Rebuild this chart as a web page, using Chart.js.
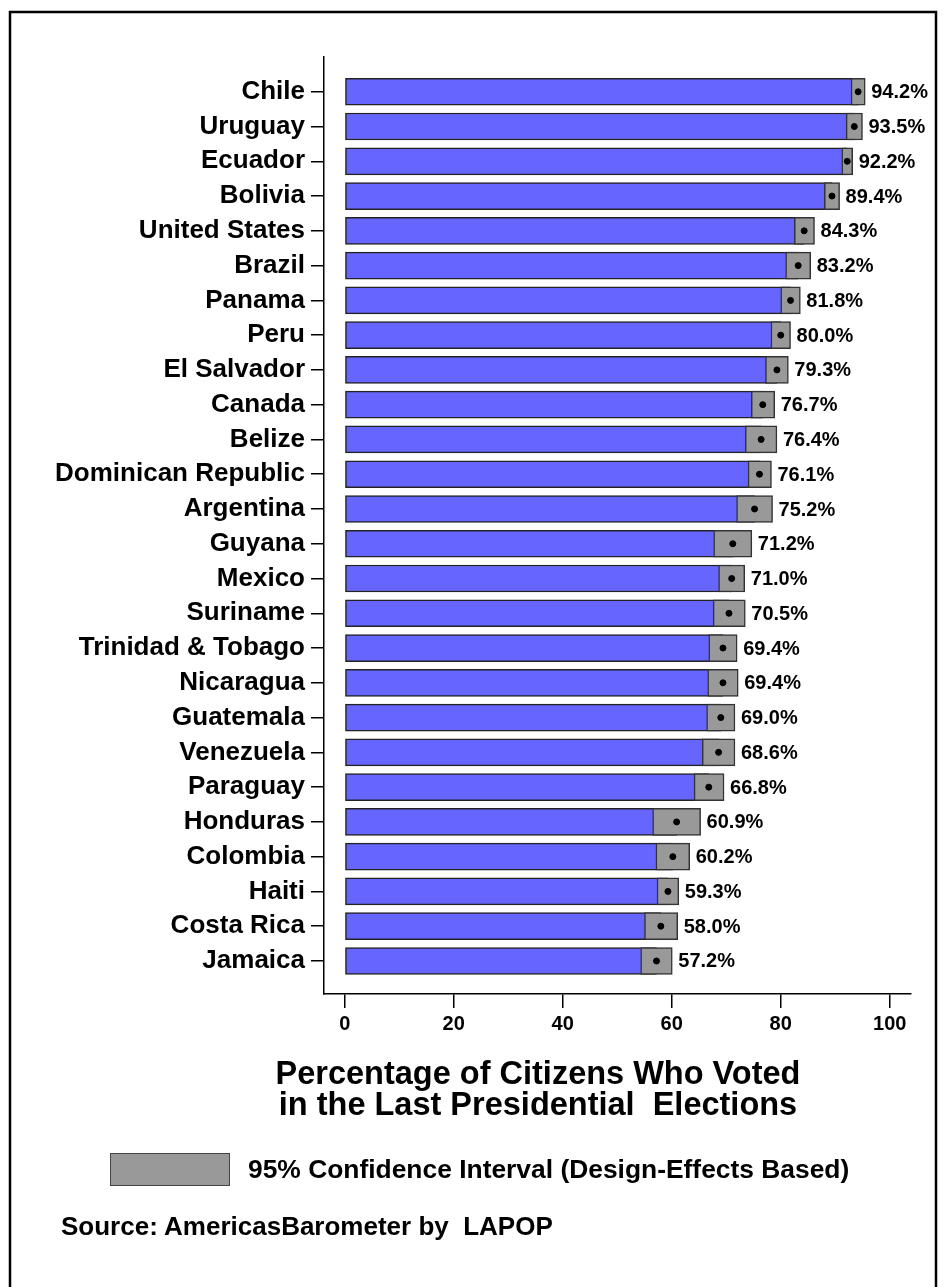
<!DOCTYPE html>
<html>
<head>
  <title>Turnout chart</title>
  <meta charset="utf-8">
  <script src="https://cdn.jsdelivr.net/npm/chart.js"></script>
  <style>
    body { margin: 0; background: #fff; font-family: "Liberation Sans", Arial, sans-serif; }
    #wrap { position: relative; width: 945px; height: 1287px; }
    #chart { position: absolute; left: 0; top: 0; }
    .txt { position: absolute; font-weight: bold; color: #000; white-space: pre; }
    #title { left: 238px; width: 600px; top: 1058px; text-align: center; font-size: 32.5px; line-height: 31px; }
    #legbox { position: absolute; left: 110px; top: 1153px; width: 118px; height: 31px; background: #999; border: 1px solid #444; }
    #legtxt { left: 248px; top: 1154px; font-size: 26.4px; line-height: 30px; }
    #source { left: 61px; top: 1211px; font-size: 26px; line-height: 30px; }
  </style>
</head>
<body>
<div id="wrap">
  <canvas id="chart" width="945" height="1287"></canvas>
  <div class="txt" id="title">Percentage of Citizens Who Voted
in the Last Presidential  Elections</div>
  <div id="legbox"></div>
  <div class="txt" id="legtxt">95% Confidence Interval (Design-Effects Based)</div>
  <div class="txt" id="source">Source: AmericasBarometer by  LAPOP</div>
</div>
<script>
  var countries = ['Chile', 'Uruguay', 'Ecuador', 'Bolivia', 'United States', 'Brazil', 'Panama', 'Peru',
    'El Salvador', 'Canada', 'Belize', 'Dominican Republic', 'Argentina', 'Guyana', 'Mexico', 'Suriname',
    'Trinidad & Tobago', 'Nicaragua', 'Guatemala', 'Venezuela', 'Paraguay', 'Honduras', 'Colombia',
    'Haiti', 'Costa Rica', 'Jamaica'];
  var turnout = [94.2, 93.5, 92.2, 89.4, 84.3, 83.2, 81.8, 80.0, 79.3, 76.7, 76.4, 76.1, 75.2, 71.2, 71.0,
    70.5, 69.4, 69.4, 69.0, 68.6, 66.8, 60.9, 60.2, 59.3, 58.0, 57.2];
  // 95% confidence interval ends
  var ciLow = [92.9, 92.0, 91.2, 88.0, 82.5, 80.9, 80.0, 78.2, 77.2, 74.6, 73.5, 74.0, 71.9, 67.7, 68.6,
    67.6, 66.8, 66.6, 66.4, 65.6, 64.1, 56.5, 57.1, 57.3, 55.0, 54.3];
  var ciHigh = [95.5, 95.0, 93.2, 90.8, 86.2, 85.5, 83.6, 81.8, 81.4, 78.9, 79.3, 78.3, 78.5, 74.7, 73.4,
    73.5, 72.0, 72.2, 71.6, 71.6, 69.6, 65.3, 63.3, 61.3, 61.1, 60.1];
  var xTicks = [0, 20, 40, 60, 80, 100];

  var fontFam = '"Liberation Sans", Arial, sans-serif';

  var framePlugin = {
    id: 'frame',
    beforeDraw: function(chart) {
      var ctx = chart.ctx;
      ctx.save();
      ctx.fillStyle = '#fff';
      ctx.fillRect(0, 0, chart.width, chart.height);
      ctx.strokeStyle = '#000';
      ctx.lineWidth = 2.5;
      ctx.beginPath();
      ctx.moveTo(10, 1300);
      ctx.lineTo(10, 12);
      ctx.lineTo(936, 12);
      ctx.lineTo(936, 1300);
      ctx.stroke();
      ctx.restore();
    }
  };

  var valueLabels = {
    id: 'valueLabels',
    afterDatasetsDraw: function(chart) {
      var ctx = chart.ctx;
      var xs = chart.scales.x, ys = chart.scales.y;
      ctx.save();
      ctx.fillStyle = '#000';
      ctx.font = 'bold 20px ' + fontFam;
      ctx.textAlign = 'left';
      ctx.textBaseline = 'middle';
      turnout.forEach(function(v, i) {
        ctx.fillText(v.toFixed(1) + '%', xs.getPixelForValue(ciHigh[i]) + 6, ys.getPixelForValue(i) + 1);
      });
      ctx.restore();
    }
  };

  new Chart(document.getElementById('chart'), {
    type: 'bar',
    data: {
      datasets: [{
        label: 'Turnout',
        data: turnout.map(function(v, i) { return { x: v, y: i }; }),
        backgroundColor: '#6666ff',
        borderColor: '#222',
        borderWidth: 1.5,
        borderSkipped: false,
        barThickness: 27,
        grouped: false,
        order: 3
      }, {
        label: '95% CI',
        data: turnout.map(function(v, i) { return { x: [ciLow[i], ciHigh[i]], y: i }; }),
        backgroundColor: '#999999',
        borderColor: '#333',
        borderWidth: 1.5,
        borderSkipped: false,
        barThickness: 27,
        grouped: false,
        order: 2
      }, {
        type: 'scatter',
        label: 'Mean',
        data: turnout.map(function(v, i) { return { x: v, y: i }; }),
        backgroundColor: '#000',
        borderColor: '#000',
        pointRadius: 3,
        order: 1
      }]
    },
    options: {
      responsive: false,
      animation: false,
      indexAxis: 'y',
      layout: { padding: { top: 57, right: 34, bottom: 233, left: 0 } },
      plugins: { legend: { display: false }, tooltip: { enabled: false } },
      scales: {
        x: {
          type: 'linear',
          position: 'bottom',
          min: -3.8,
          max: 103.9,
          offset: false,
          afterBuildTicks: function(scale) { scale.ticks = xTicks.map(function(t) { return { value: t }; }); },
          afterFit: function(scale) { scale.height = 60; },
          grid: { drawOnChartArea: false, offset: false, color: '#000', lineWidth: 1.5, tickLength: 14 },
          border: { color: '#000', width: 1.5 },
          ticks: { color: '#000', padding: 4, font: { family: fontFam, size: 20, weight: 'bold' } }
        },
        y: {
          type: 'linear',
          position: 'left',
          reverse: true,
          min: -1,
          max: 25.95,
          offset: false,
          afterBuildTicks: function(scale) { scale.ticks = countries.map(function(c, i) { return { value: i }; }); },
          afterFit: function(scale) { scale.width = 324; },
          grid: { drawOnChartArea: false, offset: false, color: '#000', lineWidth: 1.5, tickLength: 13 },
          border: { color: '#000', width: 1.5 },
          ticks: {
            color: '#000',
            padding: 6,
            font: { family: fontFam, size: 26, weight: 'bold' },
            callback: function(v) { return countries[v]; }
          }
        }
      }
    },
    plugins: [framePlugin, valueLabels]
  });
</script>
</body>
</html>
